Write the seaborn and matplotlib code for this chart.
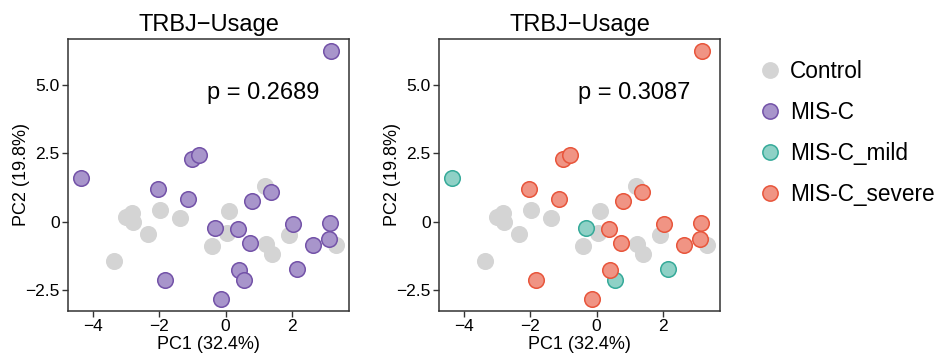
import numpy as np
import pandas as pd
import matplotlib
matplotlib.use("Agg")
import matplotlib.pyplot as plt
from matplotlib.lines import Line2D
import seaborn as sns

# ---- data ----
control_pc1 = [-3.36, -3.00, -2.81, -2.78, -2.33, -1.98, -1.37, -0.42, 0.03, 0.09, 1.18, 1.21, 1.41, 1.92, 3.34]
control_pc2 = [-1.43, 0.17, 0.33, -0.01, -0.44, 0.43, 0.15, -0.89, -0.40, 0.39, 1.33, -0.82, -1.18, -0.46, -0.85]

misc_pc1 = [3.19, -4.35, -1.02, -0.79, -2.03, -1.14, 0.81, 1.38, -0.32, 0.38,
            0.75, 2.02, 3.16, 3.12, 2.64, 2.14, 0.40, 0.55, -1.83, -0.14]
misc_pc2 = [6.24, 1.59, 2.29, 2.43, 1.22, 0.83, 0.76, 1.09, -0.21, -0.24,
            -0.76, -0.07, -0.05, -0.62, -0.83, -1.72, -1.74, -2.12, -2.12, -2.82]
misc_severity = ["severe", "mild", "severe", "severe", "severe", "severe", "severe", "severe", "mild", "severe",
                 "severe", "severe", "severe", "severe", "severe", "mild", "severe", "mild", "severe", "severe"]

p_values = ["p = 0.2689", "p = 0.3087"]
legend_labels = ["Control", "MIS-C", "MIS-C_mild", "MIS-C_severe"]
x_ticks = [-4, -2, 0, 2]
y_ticks = [-2.5, 0, 2.5, 5.0]
y_tick_labels = ["\u22122.5", "0", "2.5", "5.0"]
x_tick_labels = ["\u22124", "\u22122", "0", "2"]

ctrl = pd.DataFrame({"PC1": control_pc1, "PC2": control_pc2, "group": "Control"})
misc = pd.DataFrame({"PC1": misc_pc1, "PC2": misc_pc2, "group": "MIS-C",
                     "severity": ["MIS-C_" + s for s in misc_severity]})

fill = {"Control": "#D4D4D4", "MIS-C": "#A895CB", "MIS-C_mild": "#8FD1C6", "MIS-C_severe": "#F09484"}
edge = {"Control": "#D4D4D4", "MIS-C": "#7352A8", "MIS-C_mild": "#35AA99", "MIS-C_severe": "#E8553B"}

sns.set_theme(style="white")
plt.rcParams["font.family"] = ["Liberation Sans", "DejaVu Sans"]
plt.rcParams["text.color"] = "black"

fig = plt.figure(figsize=(9.4, 3.57), dpi=100)
ax1 = fig.add_axes([68 / 940, 1 - 311 / 357, 281 / 940, 272 / 357])
ax2 = fig.add_axes([439 / 940, 1 - 311 / 357, 281 / 940, 272 / 357])

S = 125
LW = 1.1

def draw(ax, sub, key):
    sns.scatterplot(data=sub, x="PC1", y="PC2", ax=ax, color=fill[key],
                    edgecolor=edge[key], linewidth=LW, s=S, legend=False, zorder=3)

# left panel
draw(ax1, ctrl, "Control")
draw(ax1, misc, "MIS-C")
# right panel
draw(ax2, ctrl, "Control")
for key in ["MIS-C_mild", "MIS-C_severe"]:
    draw(ax2, misc[misc["severity"] == key], key)

for ax, p in zip([ax1, ax2], p_values):
    ax.set_xlim(-4.75, 3.72)
    ax.set_ylim(-3.25, 6.68)
    ax.set_xticks(x_ticks)
    ax.set_xticklabels(x_tick_labels)
    ax.set_yticks(y_ticks)
    ax.set_yticklabels(y_tick_labels)
    ax.tick_params(axis="both", which="major", direction="out", length=4, width=1,
                   color="#333333", labelsize=12.5, labelcolor="black", pad=2,
                   bottom=True, left=True)
    for sp in ax.spines.values():
        sp.set_color("#333333")
        sp.set_linewidth(1.1)
    ax.set_xlabel("PC1 (32.4%)", fontsize=13, color="black", labelpad=1)
    ax.set_ylabel("PC2 (19.8%)", fontsize=13, color="black")
    ax.yaxis.set_label_coords(-0.135, 0.5)
    ax.set_title("TRBJ\u2212Usage", fontsize=17, color="black", pad=6)
    ax.text(0.694, 0.80, p, transform=ax.transAxes, ha="center", va="center",
            fontsize=17, color="black")
    ax.grid(False)

handles = [Line2D([0], [0], marker="o", linestyle="", markersize=11,
                  markerfacecolor=fill[k], markeredgecolor=edge[k], markeredgewidth=LW)
           for k in legend_labels]
fig.legend(handles, legend_labels, loc="upper left", bbox_to_anchor=(745 / 940, 1 - 49 / 357),
           frameon=False, fontsize=16.3, handletextpad=0.3, labelspacing=0.79,
           borderpad=0, handlelength=1.2, labelcolor="black")

fig.savefig("out.png", dpi=100, facecolor="white")
